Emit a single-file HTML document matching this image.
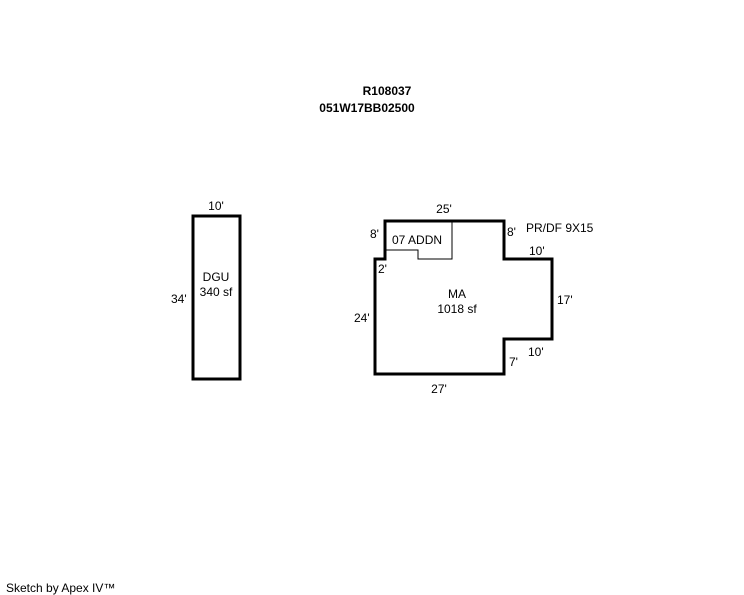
<!DOCTYPE html>
<html><head><style>
body{margin:0;background:#fff;}
svg{display:block;}
text{font-family:"Liberation Sans",sans-serif;font-size:12px;fill:#000;}
</style></head><body>
<svg width="744" height="595" xmlns="http://www.w3.org/2000/svg">
<text x="387" y="95" text-anchor="middle" font-weight="bold">R108037</text>
<text x="367" y="112" text-anchor="middle" font-weight="bold">051W17BB02500</text>
<rect x="193" y="216" width="47" height="163" fill="none" stroke="#000" stroke-width="3"/>
<text x="216" y="210" text-anchor="middle">10'</text>
<text x="216" y="281" text-anchor="middle">DGU</text>
<text x="216" y="296" text-anchor="middle">340 sf</text>
<text x="171" y="303">34'</text>
<polygon points="385,221 504,221 504,259 552,259 552,339 504,339 504,374 375,374 375,259 385,259" fill="none" stroke="#000" stroke-width="3"/>
<polyline points="452,221 452,259 418,259 418,250 385,250" fill="none" stroke="#000" stroke-width="1"/>
<text x="392" y="244" font-size="11">07 ADDN</text>
<text x="444" y="213" text-anchor="middle">25'</text>
<text x="370" y="238">8'</text>
<text x="507" y="236">8'</text>
<text x="526" y="232">PR/DF 9X15</text>
<text x="529" y="255">10'</text>
<text x="378" y="273">2'</text>
<text x="457" y="298" text-anchor="middle">MA</text>
<text x="457" y="313" text-anchor="middle">1018 sf</text>
<text x="557" y="304">17'</text>
<text x="354" y="322">24'</text>
<text x="528" y="356">10'</text>
<text x="509" y="366">7'</text>
<text x="439" y="393" text-anchor="middle">27'</text>
<text x="6" y="592" font-size="9">Sketch by Apex IV™</text>
</svg>
</body></html>
